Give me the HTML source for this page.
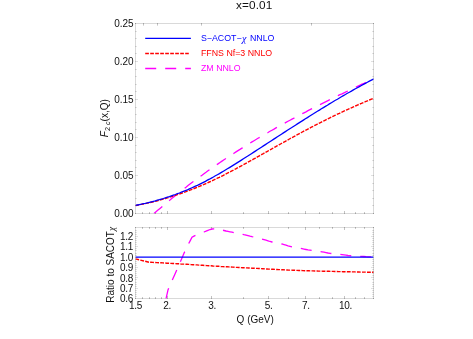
<!DOCTYPE html>
<html><head><meta charset="utf-8"><title>x=0.01</title>
<style>html,body{margin:0;padding:0;background:#fff;}svg{display:block;will-change:transform;}</style></head>
<body>
<svg width="473" height="339" viewBox="0 0 473 339">
<rect width="473" height="339" fill="#fff"/>
<defs>
<clipPath id="c1"><rect x="135.5" y="23.5" width="238.0" height="190.0"/></clipPath>
<clipPath id="c2"><rect x="135.5" y="227.5" width="238.0" height="71.0"/></clipPath>
</defs>
<path d="M167.5,214.0v-3.0M211.5,214.0v-3.0M268.5,214.0v-3.0M305.5,214.0v-3.0M344.5,214.0v-3.0M142.5,214.0v-1.9M149.5,214.0v-1.9M155.5,214.0v-1.9M161.5,214.0v-1.9M243.5,214.0v-1.9M288.5,214.0v-1.9M319.5,214.0v-1.9M332.5,214.0v-1.9M355.5,214.0v-1.9M364.5,214.0v-1.9M167.5,299.0v-3.0M167.5,227.0v3.0M211.5,299.0v-3.0M211.5,227.0v3.0M268.5,299.0v-3.0M268.5,227.0v3.0M305.5,299.0v-3.0M305.5,227.0v3.0M344.5,299.0v-3.0M344.5,227.0v3.0M142.5,299.0v-1.9M142.5,227.0v1.9M149.5,299.0v-1.9M149.5,227.0v1.9M155.5,299.0v-1.9M155.5,227.0v1.9M161.5,299.0v-1.9M161.5,227.0v1.9M243.5,299.0v-1.9M243.5,227.0v1.9M288.5,299.0v-1.9M288.5,227.0v1.9M319.5,299.0v-1.9M319.5,227.0v1.9M332.5,299.0v-1.9M332.5,227.0v1.9M355.5,299.0v-1.9M355.5,227.0v1.9M364.5,299.0v-1.9M364.5,227.0v1.9M143.5,23.0v2.6M157.5,23.0v2.6M201.5,23.0v2.6M311.5,23.0v2.6" stroke="#000" stroke-opacity="0.24" stroke-width="1" fill="none"/>
<path d="M135.0,205.5h1.9M374.0,205.5h-1.9M135.0,198.5h1.9M374.0,198.5h-1.9M135.0,190.5h1.9M374.0,190.5h-1.9M135.0,183.5h1.9M374.0,183.5h-1.9M135.0,175.5h3.0M374.0,175.5h-3.0M135.0,167.5h1.9M374.0,167.5h-1.9M135.0,160.5h1.9M374.0,160.5h-1.9M135.0,152.5h1.9M374.0,152.5h-1.9M135.0,145.5h1.9M374.0,145.5h-1.9M135.0,137.5h3.0M374.0,137.5h-3.0M135.0,129.5h1.9M374.0,129.5h-1.9M135.0,122.5h1.9M374.0,122.5h-1.9M135.0,114.5h1.9M374.0,114.5h-1.9M135.0,107.5h1.9M374.0,107.5h-1.9M135.0,99.5h3.0M374.0,99.5h-3.0M135.0,91.5h1.9M374.0,91.5h-1.9M135.0,84.5h1.9M374.0,84.5h-1.9M135.0,76.5h1.9M374.0,76.5h-1.9M135.0,69.5h1.9M374.0,69.5h-1.9M135.0,61.5h3.0M374.0,61.5h-3.0M135.0,53.5h1.9M374.0,53.5h-1.9M135.0,46.5h1.9M374.0,46.5h-1.9M135.0,38.5h1.9M374.0,38.5h-1.9M135.0,31.5h1.9M374.0,31.5h-1.9M135.0,296.5h1.9M374.0,296.5h-1.9M135.0,294.5h1.9M374.0,294.5h-1.9M135.0,292.5h1.9M374.0,292.5h-1.9M135.0,290.5h1.9M374.0,290.5h-1.9M135.0,288.5h3.0M374.0,288.5h-3.0M135.0,286.5h1.9M374.0,286.5h-1.9M135.0,284.5h1.9M374.0,284.5h-1.9M135.0,282.5h1.9M374.0,282.5h-1.9M135.0,279.5h1.9M374.0,279.5h-1.9M135.0,277.5h3.0M374.0,277.5h-3.0M135.0,275.5h1.9M374.0,275.5h-1.9M135.0,273.5h1.9M374.0,273.5h-1.9M135.0,271.5h1.9M374.0,271.5h-1.9M135.0,269.5h1.9M374.0,269.5h-1.9M135.0,267.5h3.0M374.0,267.5h-3.0M135.0,265.5h1.9M374.0,265.5h-1.9M135.0,263.5h1.9M374.0,263.5h-1.9M135.0,261.5h1.9M374.0,261.5h-1.9M135.0,259.5h1.9M374.0,259.5h-1.9M135.0,257.5h3.0M374.0,257.5h-3.0M135.0,255.5h1.9M374.0,255.5h-1.9M135.0,253.5h1.9M374.0,253.5h-1.9M135.0,250.5h1.9M374.0,250.5h-1.9M135.0,248.5h1.9M374.0,248.5h-1.9M135.0,246.5h3.0M374.0,246.5h-3.0M135.0,244.5h1.9M374.0,244.5h-1.9M135.0,242.5h1.9M374.0,242.5h-1.9M135.0,240.5h1.9M374.0,240.5h-1.9M135.0,238.5h1.9M374.0,238.5h-1.9M135.0,236.5h3.0M374.0,236.5h-3.0M135.0,234.5h1.9M374.0,234.5h-1.9M135.0,232.5h1.9M374.0,232.5h-1.9M135.0,230.5h1.9M374.0,230.5h-1.9" stroke="#000" stroke-opacity="0.12" stroke-width="1" fill="none"/>
<path d="M135.0,23.5h1M135.0,213.5h1M135.0,227.5h1M135.0,298.5h1M373.0,23.5h1M373.0,213.5h1M373.0,227.5h1M373.0,298.5h1" stroke="#000" stroke-opacity="0.3" stroke-width="1" fill="none"/>
<g clip-path="url(#c1)" fill="none" stroke-width="1.3">
<path d="M154.0,213.6 L156.0,211.8 L158.0,210.1 L160.0,208.4 L162.0,206.7 L164.0,205.0 L166.0,203.3 L168.0,201.6 L170.0,200.0 L172.0,198.3 L174.0,196.7 L176.0,195.1 L178.0,193.5 L180.0,191.9 L182.0,190.3 L184.0,188.7 L186.0,187.2 L188.0,185.6 L190.0,184.1 L192.0,182.6 L194.0,181.1 L196.0,179.6 L198.0,178.1 L200.0,176.6 L202.0,175.2 L204.0,173.7 L206.0,172.3 L208.0,170.8 L210.0,169.4 L212.0,168.0 L214.0,166.6 L216.0,165.2 L218.0,163.9 L220.0,162.5 L222.0,161.1 L224.0,159.8 L226.0,158.5 L228.0,157.1 L230.0,155.8 L232.0,154.5 L234.0,153.2 L236.0,151.9 L238.0,150.6 L240.0,149.4 L242.0,148.1 L244.0,146.9 L246.0,145.6 L248.0,144.4 L250.0,143.2 L252.0,141.9 L254.0,140.7 L256.0,139.5 L258.0,138.3 L260.0,137.2 L262.0,136.0 L264.0,134.8 L266.0,133.6 L268.0,132.5 L270.0,131.3 L272.0,130.2 L274.0,129.1 L276.0,127.9 L278.0,126.8 L280.0,125.7 L282.0,124.6 L284.0,123.5 L286.0,122.4 L288.0,121.3 L290.0,120.2 L292.0,119.1 L294.0,118.1 L296.0,117.0 L298.0,115.9 L300.0,114.9 L302.0,113.8 L304.0,112.8 L306.0,111.8 L308.0,110.7 L310.0,109.7 L312.0,108.7 L314.0,107.7 L316.0,106.6 L318.0,105.6 L320.0,104.6 L322.0,103.6 L324.0,102.6 L326.0,101.6 L328.0,100.6 L330.0,99.6 L332.0,98.7 L334.0,97.7 L336.0,96.7 L338.0,95.7 L340.0,94.7 L342.0,93.8 L344.0,92.8 L346.0,91.8 L348.0,90.9 L350.0,89.9 L352.0,89.0 L354.0,88.0 L356.0,87.1 L358.0,86.1 L360.0,85.2 L362.0,84.2 L364.0,83.3 L366.0,82.3 L368.0,81.4 L370.0,80.4 L372.0,79.5 L373.9,78.6" stroke="#ff00ff" stroke-dasharray="11 8.92"/>
<path d="M135.4,205.6 L137.4,205.2 L139.4,204.8 L141.4,204.4 L143.4,204.0 L145.4,203.6 L147.4,203.1 L149.4,202.7 L151.4,202.2 L153.4,201.7 L155.4,201.2 L157.4,200.7 L159.4,200.2 L161.4,199.6 L163.4,199.0 L165.4,198.5 L167.4,197.9 L169.4,197.3 L171.4,196.6 L173.4,196.0 L175.4,195.4 L177.4,194.7 L179.4,194.0 L181.4,193.3 L183.4,192.6 L185.4,191.9 L187.4,191.1 L189.4,190.4 L191.4,189.6 L193.4,188.8 L195.4,188.0 L197.4,187.2 L199.4,186.4 L201.4,185.5 L203.4,184.7 L205.4,183.8 L207.4,182.9 L209.4,182.0 L211.4,181.1 L213.4,180.1 L215.4,179.2 L217.4,178.2 L219.4,177.3 L221.4,176.3 L223.4,175.3 L225.4,174.2 L227.4,173.2 L229.4,172.2 L231.4,171.1 L233.4,170.1 L235.4,169.0 L237.4,168.0 L239.4,166.9 L241.4,165.8 L243.4,164.7 L245.4,163.6 L247.4,162.5 L249.4,161.4 L251.4,160.3 L253.4,159.2 L255.4,158.1 L257.4,156.9 L259.4,155.8 L261.4,154.7 L263.4,153.6 L265.4,152.4 L267.4,151.3 L269.4,150.2 L271.4,149.1 L273.4,147.9 L275.4,146.8 L277.4,145.7 L279.4,144.6 L281.4,143.5 L283.4,142.4 L285.4,141.3 L287.4,140.2 L289.4,139.0 L291.4,137.9 L293.4,136.9 L295.4,135.8 L297.4,134.7 L299.4,133.6 L301.4,132.5 L303.4,131.4 L305.4,130.4 L307.4,129.3 L309.4,128.3 L311.4,127.2 L313.4,126.2 L315.4,125.1 L317.4,124.1 L319.4,123.1 L321.4,122.1 L323.4,121.1 L325.4,120.1 L327.4,119.1 L329.4,118.1 L331.4,117.1 L333.4,116.1 L335.4,115.2 L337.4,114.2 L339.4,113.3 L341.4,112.3 L343.4,111.4 L345.4,110.5 L347.4,109.6 L349.4,108.7 L351.4,107.8 L353.4,106.9 L355.4,106.0 L357.4,105.1 L359.4,104.2 L361.4,103.4 L363.4,102.5 L365.4,101.7 L367.4,100.9 L369.4,100.0 L371.4,99.2 L373.4,98.4 L373.9,98.2" stroke="#ff0000" stroke-dasharray="3.8 1.25" stroke-width="1.4"/>
<path d="M135.4,205.4 L137.4,205.0 L139.4,204.6 L141.4,204.2 L143.4,203.7 L145.4,203.3 L147.4,202.8 L149.4,202.3 L151.4,201.8 L153.4,201.3 L155.4,200.8 L157.4,200.2 L159.4,199.7 L161.4,199.1 L163.4,198.5 L165.4,197.8 L167.4,197.2 L169.4,196.6 L171.4,195.9 L173.4,195.2 L175.4,194.5 L177.4,193.7 L179.4,193.0 L181.4,192.2 L183.4,191.4 L185.4,190.6 L187.4,189.8 L189.4,188.9 L191.4,188.0 L193.4,187.1 L195.4,186.2 L197.4,185.3 L199.4,184.3 L201.4,183.3 L203.4,182.3 L205.4,181.3 L207.4,180.2 L209.4,179.2 L211.4,178.1 L213.4,177.0 L215.4,175.8 L217.4,174.7 L219.4,173.6 L221.4,172.4 L223.4,171.2 L225.4,170.0 L227.4,168.8 L229.4,167.6 L231.4,166.4 L233.4,165.1 L235.4,163.9 L237.4,162.6 L239.4,161.4 L241.4,160.1 L243.4,158.8 L245.4,157.5 L247.4,156.3 L249.4,155.0 L251.4,153.7 L253.4,152.4 L255.4,151.1 L257.4,149.8 L259.4,148.5 L261.4,147.2 L263.4,145.9 L265.4,144.6 L267.4,143.3 L269.4,142.0 L271.4,140.7 L273.4,139.4 L275.4,138.1 L277.4,136.8 L279.4,135.5 L281.4,134.2 L283.4,132.9 L285.4,131.6 L287.4,130.3 L289.4,129.0 L291.4,127.8 L293.4,126.5 L295.4,125.2 L297.4,123.9 L299.4,122.6 L301.4,121.4 L303.4,120.1 L305.4,118.8 L307.4,117.6 L309.4,116.3 L311.4,115.0 L313.4,113.8 L315.4,112.5 L317.4,111.3 L319.4,110.1 L321.4,108.8 L323.4,107.6 L325.4,106.4 L327.4,105.2 L329.4,103.9 L331.4,102.7 L333.4,101.5 L335.4,100.3 L337.4,99.2 L339.4,98.0 L341.4,96.8 L343.4,95.6 L345.4,94.5 L347.4,93.3 L349.4,92.2 L351.4,91.1 L353.4,89.9 L355.4,88.8 L357.4,87.7 L359.4,86.6 L361.4,85.5 L363.4,84.4 L365.4,83.4 L367.4,82.3 L369.4,81.2 L371.4,80.2 L373.4,79.2 L373.9,78.9" stroke="#0000ff"/>
</g>
<g clip-path="url(#c2)" fill="none" stroke-width="1.3">
<path d="M166.0,298.9 L168.0,289.9 L170.0,284.9 L172.0,280.7 L174.0,276.2 L176.0,271.7 L178.0,267.1 L180.0,262.6 L182.0,258.0 L184.0,253.3 L186.0,248.9 L188.0,244.9 L190.0,241.1 L192.0,237.3 L194.0,236.1 L196.0,235.1 L198.0,234.3 L200.0,233.5 L202.0,232.7 L204.0,232.0 L206.0,231.2 L208.0,230.3 L210.0,229.5 L212.0,229.0 L214.0,228.8 L216.0,228.8 L218.0,228.9 L220.0,229.3 L222.0,230.0 L224.0,230.5 L226.0,231.0 L228.0,231.4 L230.0,231.8 L232.0,232.2 L234.0,232.7 L236.0,233.1 L238.0,233.4 L240.0,233.8 L242.0,234.2 L244.0,234.7 L246.0,235.1 L248.0,235.6 L250.0,236.2 L252.0,236.7 L254.0,237.1 L256.0,237.6 L258.0,238.0 L260.0,238.5 L262.0,239.0 L264.0,239.6 L266.0,240.2 L268.0,240.8 L270.0,241.5 L272.0,242.0 L274.0,242.5 L276.0,242.8 L278.0,243.2 L280.0,243.6 L282.0,244.0 L284.0,244.6 L286.0,245.2 L288.0,245.9 L290.0,246.4 L292.0,246.9 L294.0,247.3 L296.0,247.6 L298.0,248.0 L300.0,248.3 L302.0,248.7 L304.0,249.1 L306.0,249.5 L308.0,249.9 L310.0,250.2 L312.0,250.5 L314.0,250.8 L316.0,251.0 L318.0,251.2 L320.0,251.5 L322.0,251.8 L324.0,252.2 L326.0,252.6 L328.0,253.0 L330.0,253.3 L332.0,253.6 L334.0,253.8 L336.0,253.9 L338.0,254.1 L340.0,254.3 L342.0,254.6 L344.0,254.9 L346.0,255.2 L348.0,255.5 L350.0,255.7 L352.0,255.8 L354.0,255.9 L356.0,256.0 L358.0,256.1 L360.0,256.3 L362.0,256.4 L364.0,256.5 L366.0,256.7 L368.0,256.8 L370.0,256.9 L372.0,257.0 L373.9,257.0" stroke="#ff00ff" stroke-dasharray="11 9"/>
<path d="M135.4,258.9 L148.9,262.2 L150.9,262.3 L152.9,262.4 L154.9,262.5 L156.9,262.6 L158.9,262.7 L160.9,262.8 L162.9,262.9 L164.9,263.0 L166.9,263.2 L168.9,263.3 L170.9,263.4 L172.9,263.5 L174.9,263.6 L176.9,263.7 L178.9,263.8 L180.9,264.0 L182.9,264.1 L184.9,264.2 L186.9,264.3 L188.9,264.4 L190.9,264.6 L192.9,264.7 L194.9,264.8 L196.9,264.9 L198.9,265.1 L200.9,265.2 L202.9,265.3 L204.9,265.5 L206.9,265.6 L208.9,265.7 L210.9,265.8 L212.9,266.0 L214.9,266.1 L216.9,266.2 L218.9,266.3 L220.9,266.5 L222.9,266.6 L224.9,266.7 L226.9,266.8 L228.9,266.9 L230.9,267.0 L232.9,267.1 L234.9,267.3 L236.9,267.4 L238.9,267.5 L240.9,267.6 L242.9,267.7 L244.9,267.8 L246.9,267.9 L248.9,268.0 L250.9,268.1 L252.9,268.2 L254.9,268.3 L256.9,268.4 L258.9,268.5 L260.9,268.6 L262.9,268.7 L264.9,268.9 L266.9,269.0 L268.9,269.1 L270.9,269.2 L272.9,269.3 L274.9,269.4 L276.9,269.5 L278.9,269.6 L280.9,269.7 L282.9,269.8 L284.9,269.9 L286.9,270.0 L288.9,270.1 L290.9,270.1 L292.9,270.2 L294.9,270.3 L296.9,270.4 L298.9,270.5 L300.9,270.5 L302.9,270.6 L304.9,270.7 L306.9,270.7 L308.9,270.8 L310.9,270.9 L312.9,270.9 L314.9,271.0 L316.9,271.0 L318.9,271.1 L320.9,271.1 L322.9,271.2 L324.9,271.2 L326.9,271.3 L328.9,271.3 L330.9,271.4 L332.9,271.4 L334.9,271.5 L336.9,271.5 L338.9,271.6 L340.9,271.6 L342.9,271.7 L344.9,271.7 L346.9,271.8 L348.9,271.8 L350.9,271.8 L352.9,271.9 L354.9,271.9 L356.9,272.0 L358.9,272.0 L360.9,272.1 L362.9,272.1 L364.9,272.1 L366.9,272.2 L368.9,272.2 L370.9,272.2 L372.9,272.3 L373.9,272.3" stroke="#ff0000" stroke-dasharray="3.8 1.25" stroke-width="1.4"/>
<path d="M135.5,257.2H373.5" stroke="#0000ff"/>
</g>
<rect x="135.5" y="23.5" width="238.0" height="190.0" fill="none" stroke="#000" stroke-opacity="0.15" stroke-width="1"/>
<rect x="135.5" y="227.5" width="238.0" height="71.0" fill="none" stroke="#000" stroke-opacity="0.15" stroke-width="1"/>
<g fill="none" stroke-width="1.3">
<path d="M145.2,38.3H190.9" stroke="#0000ff"/>
<path d="M145.2,53.5H188.8" stroke="#ff0000" stroke-dasharray="3.7 1.3"/>
<path d="M145.2,68.5H190.9" stroke="#ff00ff" stroke-dasharray="11 9"/>
</g>
<g font-family="Liberation Sans, sans-serif" font-size="8.8">
<text x="201" y="41" fill="#0000ff">S&#8722;ACOT&#8722;<tspan font-style="italic" font-family="Liberation Serif, serif" font-size="10" dx="0.3" dy="0.5">&#967;</tspan><tspan dx="1.2" dy="-0.5"> NNLO</tspan></text>
<text x="201" y="56.3" fill="#ff0000">FFNS Nf=3 NNLO</text>
<text x="201" y="71.2" fill="#ff00ff">ZM NNLO</text>
</g>
<g font-family="Liberation Sans, sans-serif" font-size="10" fill="#111">
<text x="133.6" y="216.7" text-anchor="end">0.00</text>
<text x="133.6" y="178.8" text-anchor="end">0.05</text>
<text x="133.6" y="140.8" text-anchor="end">0.10</text>
<text x="133.6" y="102.9" text-anchor="end">0.15</text>
<text x="133.6" y="64.9" text-anchor="end">0.20</text>
<text x="133.6" y="27.0" text-anchor="end">0.25</text>
<text x="132.9" y="302.3" text-anchor="end" letter-spacing="-0.35">0.6</text>
<text x="132.9" y="291.9" text-anchor="end" letter-spacing="-0.35">0.7</text>
<text x="132.9" y="281.6" text-anchor="end" letter-spacing="-0.35">0.8</text>
<text x="132.9" y="271.2" text-anchor="end" letter-spacing="-0.35">0.9</text>
<text x="132.9" y="260.8" text-anchor="end" letter-spacing="-0.35">1.0</text>
<text x="132.9" y="250.4" text-anchor="end" letter-spacing="-0.35">1.1</text>
<text x="132.9" y="240.0" text-anchor="end" letter-spacing="-0.35">1.2</text>
<text x="135.4" y="309.3" text-anchor="middle" letter-spacing="-0.3">1.5</text>
<text x="167.2" y="309.3" text-anchor="middle" letter-spacing="-0.3">2.</text>
<text x="212.1" y="309.3" text-anchor="middle" letter-spacing="-0.3">3.</text>
<text x="268.7" y="309.3" text-anchor="middle" letter-spacing="-0.3">5.</text>
<text x="305.9" y="309.3" text-anchor="middle" letter-spacing="-0.3">7.</text>
<text x="345.4" y="309.3" text-anchor="middle" letter-spacing="-0.3">10.</text>
<text x="255.2" y="322.9" text-anchor="middle">Q (GeV)</text>
<text x="254.2" y="9.2" text-anchor="middle" font-size="11.8" letter-spacing="0.1">x=0.01</text>
<text transform="translate(108.4,118.2) rotate(-90)" text-anchor="middle"><tspan font-style="italic">F</tspan><tspan font-size="7.2" dy="2">2 <tspan font-style="italic">c</tspan></tspan><tspan dy="-2">(x,Q)</tspan></text>
<text transform="translate(113.9,264.8) rotate(-90)" text-anchor="middle">Ratio to SACOT<tspan font-style="italic" font-family="Liberation Serif, serif" font-size="9.5" dy="1.3">&#967;</tspan></text>
</g>
</svg>
</body></html>
